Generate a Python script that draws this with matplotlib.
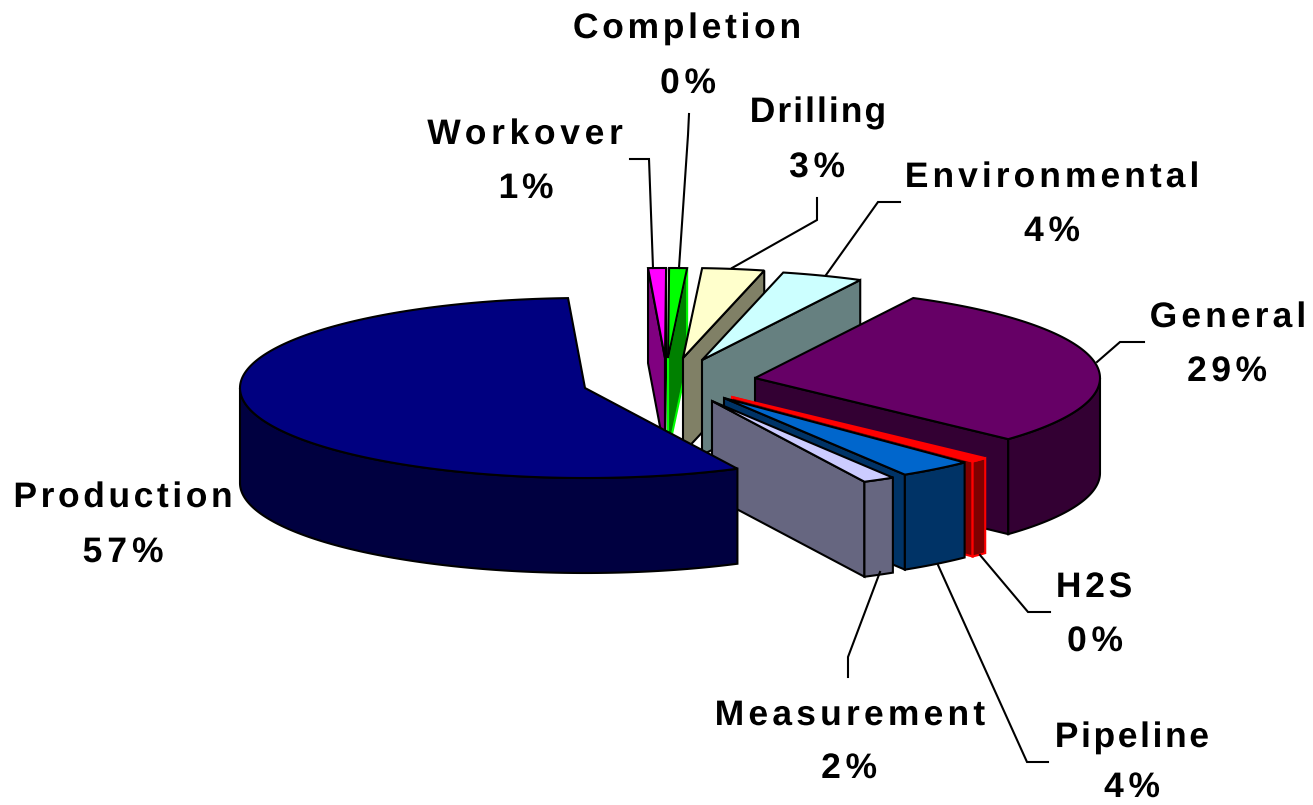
import numpy as np
import matplotlib
matplotlib.use("Agg")
import matplotlib.pyplot as plt
from matplotlib.font_manager import FontProperties
from matplotlib.patches import Polygon
from matplotlib.patheffects import AbstractPathEffect
from matplotlib.path import Path
from matplotlib.textpath import text_to_path

# ---- data ----
categories = ["General", "H2S", "Pipeline", "Measurement", "Production",
              "Workover", "Completion", "Drilling", "Environmental"]
values = [29.3, 0.4, 3.5, 1.5, 56.5, 0.7, 0.4, 2.9, 3.8]
percent_labels = ["29%", "0%", "4%", "2%", "57%", "1%", "0%", "3%", "4%"]

# ---- style ----
top_colors = ["#660066", "#FF0000", "#0066CC", "#CCCCFF", "#000080",
              "#FF00FF", "#00FF00", "#FFFFCC", "#CCFFFF"]
side_colors = ["#330033", "#800000", "#003366", "#666680", "#000040",
               "#800080", "#008000", "#808066", "#668080"]
top_edges = ["black", "#FF0000", "black", "black", "black", "black", "black", "black", "black"]
side_edges = ["black", "#FF0000", "black", "black", "black", "black", "#00FF00", "black", "black"]
apex = [(755, 378), (732, 397), (724, 398), (712, 401), (585, 388),
        (665, 358), (668, 358), (683, 358), (702, 360)]
draw_order = ["Workover", "Completion", "Drilling", "Environmental", "General",
              "H2S", "Pipeline", "Measurement", "Production"]
START_DEG, MIN_SWEEP = 27.3, 3.0
RX, RY, DEPTH = 345.0, 90.0, 95.0
LW = 1.5

name_pos = {"General": (1228, 327, 154), "H2S": (1094, 597, 75), "Pipeline": (1132, 747, 153),
            "Measurement": (850, 725, 270), "Production": (123, 507, 217), "Workover": (525, 144, 195),
            "Completion": (687, 38, 226), "Drilling": (818, 122, 134), "Environmental": (1052, 187, 292)}
pct_pos = {"General": (1227, 381, 79), "H2S": (1095, 651, 55), "Pipeline": (1132, 797, 55),
           "Measurement": (849, 778, 55), "Production": (123, 562, 80), "Workover": (526, 198, 54),
           "Completion": (688, 93, 55), "Drilling": (817, 177, 55), "Environmental": (1052, 241, 55)}
leaders = {"General": [(1144, 342), (1120, 342), (1097, 362)],
           "H2S": [(1050, 612), (1028, 612), (980, 555)],
           "Pipeline": [(1048, 762), (1027, 762), (938, 565)],
           "Measurement": [(848, 677), (848, 657), (880, 572)],
           "Workover": [(630, 159), (649, 159), (653, 268)],
           "Completion": [(689, 114), (688, 135), (679, 268)],
           "Drilling": [(817, 198), (817, 220), (732, 268)],
           "Environmental": [(900, 202), (878, 202), (826, 275)]}


class Tracking(AbstractPathEffect):
    """Draws centred text with letter spacing so that it fills a given width in pixels."""

    def __init__(self, text, prop, width_px):
        super().__init__()
        self.text, self.width_px = text, width_px
        big = prop.copy()
        big.set_size(100)
        self.bounds = [text_to_path.get_text_width_height_descent(text[:i + 1], big, False)[0]
                       for i in range(len(text))]

    def draw_path(self, renderer, gc, tpath, affine, rgbFace=None):
        scale = affine.get_matrix()[0, 0]
        verts = np.array(tpath.vertices, dtype=float)
        codes = tpath.codes
        natural = (verts[:, 0].max() - verts[:, 0].min()) * scale
        extra = (self.width_px - natural) / scale
        step = extra / max(len(self.text) - 1, 1)
        starts = list(np.flatnonzero(codes == Path.MOVETO)) + [len(verts)]
        for s, e in zip(starts[:-1], starts[1:]):
            centre = 0.5 * (verts[s:e, 0].min() + verts[s:e, 0].max())
            idx = next((i for i, b in enumerate(self.bounds) if centre < b), len(self.bounds) - 1)
            verts[s:e, 0] += idx * step - extra / 2
        renderer.draw_path(gc, Path(verts, codes), affine, rgbFace)


def arc(centre, t0, t1):
    t = np.radians(np.linspace(t0, t1, max(int(abs(t1 - t0) * 2), 2)))
    return np.column_stack([centre[0] + RX * np.sin(t), centre[1] - RY * np.cos(t)])


def face(ax, pts, color, edge):
    ax.add_patch(Polygon(pts, closed=True, facecolor=color, edgecolor=edge, lw=LW, joinstyle="miter"))


def radial_face(ax, c, t, color, edge):
    p = arc(c, t, t + 0.001)[0]
    d = np.array([0, DEPTH])
    face(ax, [c, p, p + d, np.array(c) + d], color, edge)


fig = plt.figure(figsize=(13.13, 8.05), dpi=100, facecolor="white")
ax = fig.add_axes([0, 0, 1, 1])
ax.set_xlim(0, 1313)
ax.set_ylim(805, 0)
ax.axis("off")

sweeps = np.maximum(np.array(values) * 3.6, MIN_SWEEP)
sweeps = sweeps * 360.0 / sweeps.sum()
edges = START_DEG + np.concatenate([[0], np.cumsum(sweeps)])

for name in draw_order:
    i = categories.index(name)
    c, s, e = apex[i], edges[i], edges[i + 1]
    if np.sin(np.radians(s)) < 0:
        radial_face(ax, c, s, side_colors[i], side_edges[i])
    if np.sin(np.radians(e)) > 0:
        radial_face(ax, c, e, side_colors[i], side_edges[i])
    lo, hi = max(s, 90), min(e, 270)
    if lo < hi:
        rim = arc(c, lo, hi)
        face(ax, np.vstack([rim, (rim + [0, DEPTH])[::-1]]), side_colors[i], side_edges[i])
    face(ax, np.vstack([[c], arc(c, s, e)]), top_colors[i], top_edges[i])

for pts in leaders.values():
    xs, ys = zip(*pts)
    ax.plot(xs, ys, color="black", lw=1.5, solid_joinstyle="miter")

prop = FontProperties(family="Liberation Sans", weight="bold", size=25.5)
for name, pct in zip(categories, percent_labels):
    for txt, (x, y, w) in ((name, name_pos[name]), (pct, pct_pos[name])):
        ax.text(x, y, txt, ha="center", va="baseline", color="black", fontproperties=prop,
                path_effects=[Tracking(txt, prop, w)])

fig.savefig("out.png", dpi=100, facecolor="white")
